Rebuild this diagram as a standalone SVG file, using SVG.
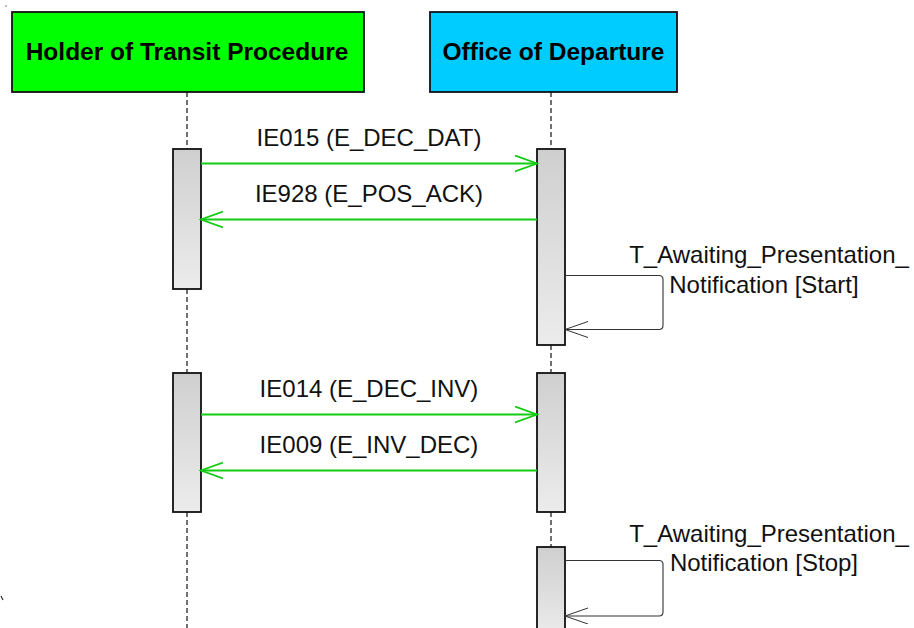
<svg xmlns="http://www.w3.org/2000/svg" width="914" height="628" viewBox="0 0 914 628">
<defs>
<linearGradient id="barGrad" x1="0" y1="0" x2="0" y2="1">
<stop offset="0" stop-color="#cfcfcf"/>
<stop offset="1" stop-color="#ececec"/>
</linearGradient>
<marker id="openArrowGreen" markerWidth="26" markerHeight="20" refX="22" refY="9" orient="auto" markerUnits="userSpaceOnUse">
<path d="M0,1 L22,9 L0,17" fill="none" stroke="#11cc11" stroke-width="1.8"/>
</marker>
<marker id="openArrowGray" markerWidth="25" markerHeight="18" refX="23" refY="8" orient="auto" markerUnits="userSpaceOnUse">
<path d="M0,0 L23,8 L0,16" fill="none" stroke="#333333" stroke-width="1"/>
</marker>
</defs>
<style>
.head{stroke:#111;stroke-width:1.8}
.headtxt{font-family:"Liberation Sans",Arial,sans-serif;font-weight:bold;font-size:24.5px;fill:#000;text-anchor:middle}
.life{stroke:#111;stroke-width:1.2;stroke-dasharray:5,3;fill:none}
.bar{fill:url(#barGrad);stroke:#111;stroke-width:1.8}
.msg{stroke:#11cc11;stroke-width:1.8;fill:none;marker-end:url(#openArrowGreen)}
.self{stroke:#333;stroke-width:1.1;fill:none;marker-end:url(#openArrowGray)}
.lbl{font-family:"Liberation Sans",Arial,sans-serif;font-size:24px;fill:#111;text-anchor:middle}
</style>
<rect width="914" height="628" fill="#ffffff"/>
<rect x="5" y="5" width="2" height="2" fill="#bbbbbb"/>
<path d="M1,596 L3,600" stroke="#333" stroke-width="1.2"/>

<g id="lifelines">
<path class="life" d="M187,92 V149 M187,289 V372 M187,512 V628"/>
<path class="life" d="M551,92 V149 M551,345 V372 M551,512 V547"/>
</g>

<g id="holder">
<rect class="head" x="12" y="12" width="352" height="80" fill="#00ff00"/>
<text class="headtxt" x="187" y="60">Holder of Transit Procedure</text>
</g>
<g id="office">
<rect class="head" x="430" y="12" width="247" height="80" fill="#00ccff"/>
<text class="headtxt" x="553.5" y="60">Office of Departure</text>
</g>

<g id="activations">
<rect class="bar" x="173" y="149" width="28" height="140"/>
<rect class="bar" x="537" y="149" width="28" height="196"/>
<rect class="bar" x="173" y="373" width="28" height="139"/>
<rect class="bar" x="537" y="373" width="28" height="139"/>
<rect class="bar" x="537" y="547" width="28" height="90"/>
</g>

<g id="connectors">
<line class="msg" x1="201" y1="163.5" x2="537" y2="163.5"/>
<line class="msg" x1="537" y1="219.5" x2="201" y2="219.5"/>
<line class="msg" x1="201" y1="414.5" x2="537" y2="414.5"/>
<line class="msg" x1="537" y1="470.5" x2="201" y2="470.5"/>
<path class="self" d="M565,275.5 H659 Q663,275.5 663,279.5 V325.5 Q663,329.5 659,329.5 H565"/>
<path class="self" d="M565,560.5 H659 Q663,560.5 663,564.5 V612 Q663,616 659,616 H565"/>
</g>

<g id="labels">
<text class="lbl" x="369" y="146">IE015 (E_DEC_DAT)</text>
<text class="lbl" x="369" y="202">IE928 (E_POS_ACK)</text>
<text class="lbl" x="369" y="397">IE014 (E_DEC_INV)</text>
<text class="lbl" x="369" y="453">IE009 (E_INV_DEC)</text>
<text class="lbl" x="769" y="263">T_Awaiting_Presentation_</text>
<text class="lbl" x="764" y="293">Notification [Start]</text>
<text class="lbl" x="769" y="542">T_Awaiting_Presentation_</text>
<text class="lbl" x="764" y="571">Notification [Stop]</text>
</g>
</svg>
